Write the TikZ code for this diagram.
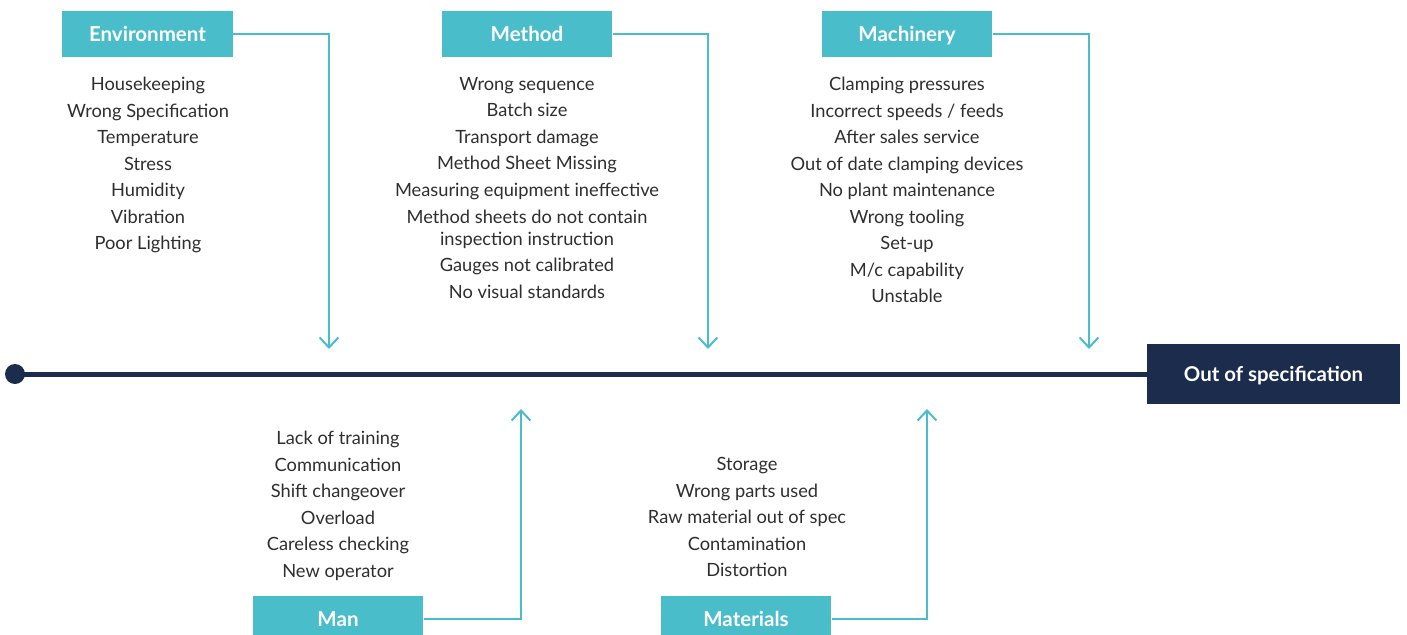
\documentclass[tikz,border=0pt]{standalone}
\usepackage{fontspec}
\setmainfont{Lato}
\usetikzlibrary{arrows.meta}

\definecolor{fishTeal}{HTML}{4ABDCB}
\definecolor{spineNavy}{HTML}{1B2C4D}
\definecolor{itemGray}{HTML}{2E2E2E}

\tikzset{
  causebox/.style = {fill=fishTeal, text=white, inner sep=0pt,
    minimum width=128pt, minimum height=34.5pt,
    text height=11.9pt, text depth=0pt,
    font=\bfseries\fontsize{15.4}{18}\selectfont},
  effectbox/.style = {fill=spineNavy, text=white, inner sep=0pt,
    minimum width=190pt, minimum height=45pt,
    text height=11.8pt, text depth=0pt,
    font=\bfseries\fontsize{15.3}{18}\selectfont},
  items/.style = {anchor=north, align=center, inner sep=0pt, text=itemGray,
    font=\fontsize{13.7}{19.9}\selectfont},
  bone/.style = {draw=fishTeal, line width=1.5pt,
    -{Straight Barb[length=7.5pt, width=14pt, line width=1.5pt]}},
}

\begin{document}
\begin{tikzpicture}[x=0.75pt, y=-0.75pt]
\useasboundingbox (0,0) rectangle (1407,635);

% categories
\node [causebox] (env)  at (147.5,34) {Environment};
\node [causebox] (meth) at (527,34)   {Method};
\node [causebox] (mach) at (907,34)   {Machinery};
\node [causebox] (man)  at (338,619)  {Man};
\node [causebox] (mat)  at (746,619)  {Materials};

% effect and spine
\node [effectbox] (effect) at (1273.5,374) {Out of specification};
\fill [spineNavy] (15,374) circle (10) coordinate (tail);
\draw [spineNavy, line width=3.75pt] (tail) -- (effect.west);

% arrow ends on the spine
\coordinate (envEnd)  at (329,349);
\coordinate (methEnd) at (708,349);
\coordinate (machEnd) at (1089,349);
\coordinate (manEnd)  at (521,409);
\coordinate (matEnd)  at (927,409);

\draw [bone] (env.east)  -| (envEnd);
\draw [bone] (meth.east) -| (methEnd);
\draw [bone] (mach.east) -| (machEnd);
\draw [bone] (man.east)  -| (manEnd);
\draw [bone] (mat.east)  -| (matEnd);

% causes
\node [items] (envList) at (148,77) {Housekeeping\\Wrong Specification\\Temperature\\
  Stress\\Humidity\\Vibration\\Poor Lighting};
\node [items] (methList) at (527,77) {Wrong sequence\\Batch size\\Transport damage\\
  Method Sheet Missing\\Measuring equipment ineffective\\
  Method sheets do not contain\\[-3.4pt]inspection instruction\\
  Gauges not calibrated\\No visual standards};
\node [items] (machList) at (907,77) {Clamping pressures\\Incorrect speeds / feeds\\
  After sales service\\Out of date clamping devices\\No plant maintenance\\
  Wrong tooling\\Set-up\\M/c capability\\Unstable};
\node [items] (manList) at (338,431) {Lack of training\\Communication\\
  Shift changeover\\Overload\\Careless checking\\New operator};
\node [items] (matList) at (747,457) {Storage\\Wrong parts used\\
  Raw material out of spec\\Contamination\\Distortion};
\end{tikzpicture}
\end{document}
